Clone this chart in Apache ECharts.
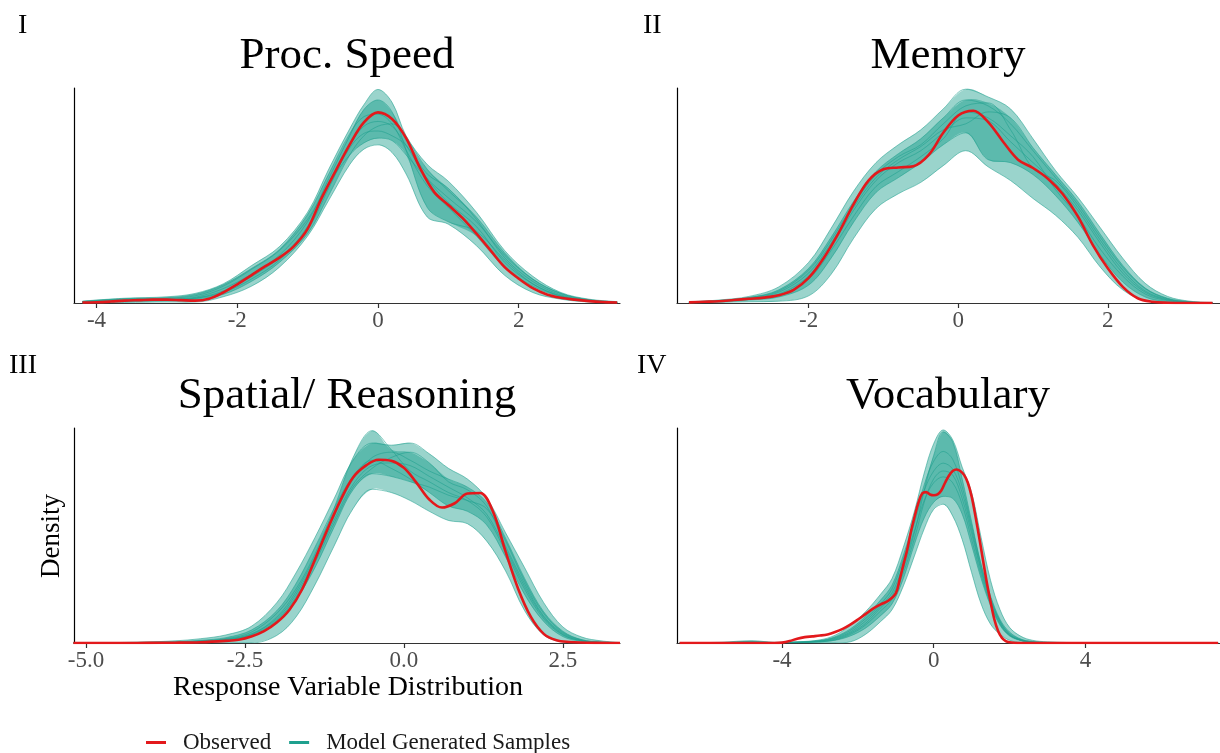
<!DOCTYPE html>
<html>
<head>
<meta charset="utf-8">
<script src="https://cdn.jsdelivr.net/npm/echarts@6/dist/echarts.min.js"></script>
<style>
html, body { margin: 0; padding: 0; background: #ffffff; }
#chart { width: 1220px; height: 753px; }
</style>
</head>
<body>
<div id="chart"></div>
<script>
// Panel labels and axis ticks
const panelTitles = ['Proc. Speed', 'Memory', 'Spatial/ Reasoning', 'Vocabulary'];
const panelNumerals = ['I', 'II', 'III', 'IV'];
const tickValues = [[-4, -2, 0, 2], [-2, 0, 2], [-5, -2.5, 0, 2.5], [-4, 0, 4]];
const tickDecimals = [0, 0, 1, 0];
const xLimits = [[-4.32, 3.44], [-3.76, 3.5], [-5.19, 3.40], [-6.77, 7.55]];
const yLimits = [0.45, 0.36, 0.40, 0.55];

// I. Processing speed
const procObsX = [-4.2,-4.0,-3.8,-3.6,-3.4,-3.2,-3.0,-2.8,-2.6,-2.4,-2.2,-2.0,-1.8,-1.6,-1.4,-1.2,-1.0,-0.8,-0.6,-0.4,-0.2,0.0,0.2,0.4,0.6,0.8,1.0,1.2,1.4,1.6,1.8,2.0,2.2,2.4,2.6,2.8,3.0,3.2,3.4];
const procObs = [0.001,0.0015,0.003,0.005,0.006,0.007,0.007,0.006,0.005,0.009,0.022,0.039,0.058,0.077,0.095,0.118,0.155,0.22,0.277,0.332,0.378,0.399,0.385,0.345,0.282,0.232,0.205,0.178,0.145,0.11,0.075,0.051,0.031,0.018,0.011,0.007,0.004,0.002,0.001];
const procSimX = [-4.2,-3.6,-3.0,-2.6,-2.2,-1.8,-1.4,-1.0,-0.7,-0.4,-0.2,0,0.2,0.4,0.7,1.0,1.4,1.8,2.2,2.6,3.0,3.4];
const procSimUpper = [0.004,0.010,0.013,0.02,0.04,0.078,0.118,0.19,0.28,0.365,0.415,0.447,0.42,0.35,0.29,0.255,0.19,0.11,0.056,0.022,0.008,0.003];
const procSimLower = [0,0.001,0.002,0.002,0.013,0.035,0.075,0.14,0.215,0.29,0.322,0.331,0.315,0.27,0.18,0.165,0.12,0.058,0.022,0.008,0.002,0];
const procSamples = [
  [0.002,0.006,0.008,0.012,0.03,0.06,0.1,0.17,0.26,0.35,0.405,0.425,0.40,0.32,0.2,0.17,0.15,0.09,0.04,0.015,0.005,0.001],
  [0.003,0.008,0.01,0.015,0.035,0.07,0.11,0.175,0.25,0.31,0.335,0.345,0.34,0.31,0.26,0.22,0.17,0.1,0.05,0.02,0.007,0.002],
  [0.001,0.004,0.006,0.01,0.025,0.055,0.095,0.155,0.24,0.33,0.37,0.38,0.37,0.33,0.26,0.21,0.16,0.085,0.04,0.014,0.004,0.001],
  [0.001,0.003,0.005,0.008,0.018,0.045,0.085,0.145,0.225,0.31,0.35,0.37,0.375,0.345,0.28,0.235,0.18,0.105,0.05,0.02,0.006,0.001],
  [0.003,0.009,0.011,0.018,0.038,0.072,0.112,0.185,0.27,0.355,0.39,0.395,0.375,0.32,0.245,0.2,0.14,0.075,0.035,0.013,0.004,0.001],
  [0.002,0.005,0.007,0.01,0.022,0.05,0.09,0.16,0.245,0.325,0.355,0.36,0.35,0.33,0.27,0.24,0.175,0.095,0.045,0.017,0.005,0.001]
];

// II. Memory
const memObsX = [-3.6,-3.4,-3.2,-3.0,-2.8,-2.6,-2.4,-2.2,-2.0,-1.8,-1.6,-1.4,-1.2,-1.0,-0.8,-0.6,-0.4,-0.2,0.0,0.2,0.4,0.6,0.8,1.0,1.2,1.4,1.6,1.8,2.0,2.2,2.4,2.6,2.8,3.0,3.2,3.4];
const memObs = [0.001,0.002,0.003,0.005,0.007,0.009,0.013,0.022,0.042,0.075,0.117,0.165,0.205,0.224,0.227,0.229,0.247,0.285,0.314,0.322,0.303,0.27,0.24,0.226,0.208,0.182,0.145,0.097,0.058,0.027,0.008,0.002,0.0005,0,0,0];
const memSimX = [-3.6,-3.2,-2.8,-2.4,-2.0,-1.7,-1.4,-1.1,-0.8,-0.5,-0.2,0.1,0.4,0.7,1.0,1.3,1.6,1.9,2.2,2.5,2.8,3.1,3.4];
const memSimUpper = [0.002,0.005,0.011,0.027,0.068,0.125,0.187,0.235,0.265,0.29,0.325,0.358,0.345,0.325,0.275,0.222,0.177,0.126,0.075,0.033,0.011,0.003,0.001];
const memSimLower = [0,0.001,0.002,0.003,0.012,0.048,0.108,0.158,0.183,0.202,0.23,0.255,0.228,0.205,0.175,0.147,0.11,0.06,0.022,0.004,0.001,0,0];
const memSamples = [
  [0.001,0.003,0.007,0.015,0.045,0.095,0.155,0.205,0.235,0.255,0.285,0.31,0.305,0.27,0.235,0.2,0.155,0.1,0.05,0.018,0.005,0.001,0],
  [0.001,0.004,0.009,0.022,0.058,0.11,0.17,0.22,0.25,0.275,0.31,0.34,0.33,0.3,0.255,0.21,0.165,0.11,0.06,0.024,0.007,0.002,0],
  [0,0.002,0.005,0.01,0.03,0.075,0.135,0.185,0.21,0.235,0.265,0.285,0.24,0.235,0.215,0.18,0.135,0.08,0.035,0.01,0.002,0,0],
  [0.001,0.003,0.008,0.018,0.05,0.1,0.16,0.21,0.24,0.262,0.29,0.3,0.32,0.31,0.26,0.215,0.17,0.115,0.063,0.025,0.008,0.002,0],
  [0.001,0.003,0.006,0.013,0.04,0.088,0.145,0.195,0.22,0.245,0.275,0.32,0.31,0.28,0.245,0.19,0.145,0.09,0.045,0.015,0.004,0.001,0],
  [0.001,0.004,0.009,0.02,0.055,0.105,0.165,0.215,0.245,0.265,0.3,0.33,0.335,0.29,0.225,0.205,0.16,0.105,0.055,0.02,0.006,0.001,0]
];

// III. Spatial / reasoning
const spaObsX = [-5.2,-4.8,-4.4,-4.0,-3.6,-3.2,-2.8,-2.6,-2.4,-2.2,-2.0,-1.8,-1.6,-1.4,-1.2,-1.0,-0.8,-0.6,-0.4,-0.2,0,0.2,0.4,0.6,0.8,1.0,1.2,1.4,1.6,1.8,2.0,2.2,2.4,2.6,3.0,3.4];
const spaObs = [0,0,0,0.0003,0.0006,0.0015,0.004,0.006,0.012,0.022,0.038,0.062,0.1,0.155,0.212,0.265,0.308,0.33,0.341,0.339,0.326,0.298,0.267,0.252,0.26,0.278,0.279,0.245,0.17,0.1,0.048,0.017,0.005,0.002,0.0003,0];
const spaSimX = [-5.2,-4.4,-3.6,-3.2,-2.8,-2.4,-2.0,-1.7,-1.4,-1.1,-0.8,-0.5,-0.2,0.1,0.4,0.7,1.0,1.3,1.6,1.9,2.2,2.5,2.8,3.1,3.4];
const spaSimUpper = [0.001,0.001,0.004,0.008,0.015,0.031,0.075,0.13,0.196,0.268,0.34,0.372,0.368,0.372,0.352,0.325,0.305,0.27,0.205,0.14,0.075,0.03,0.011,0.004,0.001];
const spaSimLower = [0,0,0,0,0,0,0.014,0.048,0.108,0.18,0.25,0.286,0.28,0.265,0.245,0.228,0.222,0.19,0.134,0.06,0.015,0.002,0,0,0];
const spaSamples = [
  [0,0.001,0.002,0.004,0.008,0.02,0.055,0.1,0.165,0.25,0.345,0.395,0.36,0.32,0.3,0.28,0.265,0.235,0.17,0.1,0.045,0.015,0.004,0.001,0],
  [0,0,0.001,0.003,0.007,0.017,0.045,0.09,0.155,0.228,0.295,0.33,0.335,0.33,0.31,0.29,0.27,0.24,0.175,0.105,0.048,0.016,0.004,0.001,0],
  [0,0,0.001,0.002,0.005,0.013,0.038,0.08,0.14,0.215,0.285,0.315,0.31,0.3,0.29,0.275,0.265,0.25,0.19,0.115,0.055,0.02,0.006,0.001,0],
  [0,0,0.001,0.002,0.006,0.015,0.042,0.085,0.15,0.222,0.29,0.325,0.345,0.355,0.335,0.3,0.285,0.255,0.18,0.11,0.05,0.018,0.005,0.001,0],
  [0,0.001,0.002,0.005,0.01,0.024,0.06,0.11,0.178,0.25,0.31,0.34,0.325,0.305,0.28,0.255,0.245,0.22,0.16,0.09,0.04,0.012,0.003,0.001,0],
  [0,0,0.001,0.003,0.006,0.016,0.048,0.095,0.16,0.235,0.305,0.345,0.355,0.34,0.32,0.305,0.29,0.262,0.195,0.12,0.058,0.022,0.006,0.002,0]
];

// IV. Vocabulary
const vocObsX = [-6.7,-5.0,-4.2,-4.0,-3.8,-3.6,-3.4,-3.2,-3.0,-2.8,-2.6,-2.4,-2.2,-2.0,-1.8,-1.6,-1.4,-1.2,-1.0,-0.9,-0.8,-0.7,-0.6,-0.5,-0.4,-0.3,-0.2,-0.1,0,0.1,0.2,0.3,0.4,0.5,0.6,0.7,0.8,0.9,1.0,1.1,1.2,1.3,1.4,1.5,1.6,1.7,1.8,1.9,2.0,2.2,3.0,5.0,7.5];
const vocObs = [0,0,0,0.001,0.005,0.011,0.015,0.017,0.019,0.022,0.028,0.036,0.047,0.06,0.074,0.088,0.099,0.108,0.127,0.161,0.2,0.238,0.285,0.325,0.36,0.383,0.386,0.38,0.378,0.38,0.39,0.41,0.428,0.44,0.444,0.44,0.43,0.41,0.375,0.325,0.27,0.212,0.155,0.105,0.06,0.03,0.013,0.005,0.002,0,0,0,0];
const vocSimX = [-6.7,-5.6,-4.8,-4.2,-3.6,-3.0,-2.6,-2.2,-1.8,-1.4,-1.1,-0.8,-0.5,-0.25,0,0.25,0.5,0.75,1.0,1.25,1.5,1.75,2.0,2.3,2.6,3.0,4.0,5.5,7.5];
const vocSimUpper = [0,0.002,0.006,0.002,0.003,0.008,0.02,0.045,0.08,0.125,0.165,0.245,0.34,0.435,0.51,0.545,0.52,0.45,0.385,0.27,0.16,0.085,0.04,0.017,0.007,0.003,0.001,0.001,0];
const vocSimLower = [0,0,0,0,0,0,0,0.003,0.022,0.055,0.085,0.146,0.225,0.292,0.342,0.355,0.325,0.265,0.18,0.1,0.048,0.022,0.007,0.001,0,0,0,0,0];
const vocSamples = [
  [0,0,0.002,0.001,0.002,0.004,0.01,0.025,0.05,0.09,0.12,0.19,0.285,0.39,0.48,0.54,0.515,0.42,0.31,0.2,0.115,0.055,0.022,0.007,0.002,0,0,0,0],
  [0,0.001,0.003,0.001,0.002,0.006,0.014,0.032,0.062,0.1,0.138,0.215,0.31,0.39,0.44,0.46,0.445,0.385,0.29,0.19,0.11,0.055,0.024,0.009,0.003,0.001,0,0,0],
  [0,0,0.001,0.001,0.001,0.003,0.008,0.022,0.046,0.082,0.112,0.18,0.27,0.36,0.42,0.44,0.43,0.37,0.28,0.185,0.105,0.05,0.02,0.007,0.002,0.001,0,0,0],
  [0,0.001,0.002,0.001,0.002,0.005,0.012,0.028,0.056,0.095,0.128,0.2,0.29,0.365,0.41,0.425,0.41,0.355,0.265,0.175,0.1,0.048,0.02,0.007,0.002,0.001,0,0,0],
  [0,0,0.001,0,0.001,0.003,0.007,0.018,0.038,0.07,0.1,0.165,0.255,0.32,0.36,0.375,0.37,0.33,0.25,0.165,0.095,0.045,0.018,0.006,0.002,0,0,0,0],
  [0,0.001,0.004,0.001,0.002,0.006,0.016,0.036,0.068,0.11,0.148,0.225,0.32,0.405,0.465,0.49,0.47,0.4,0.3,0.2,0.12,0.06,0.028,0.01,0.004,0.001,0,0,0]
];

const panels = [
  { obsX: procObsX, obs: procObs, simX: procSimX, upper: procSimUpper, lower: procSimLower, samples: procSamples },
  { obsX: memObsX, obs: memObs, simX: memSimX, upper: memSimUpper, lower: memSimLower, samples: memSamples },
  { obsX: spaObsX, obs: spaObs, simX: spaSimX, upper: spaSimUpper, lower: spaSimLower, samples: spaSamples },
  { obsX: vocObsX, obs: vocObs, simX: vocSimX, upper: vocSimUpper, lower: vocSimLower, samples: vocSamples }
];

const SERIF = "'Liberation Serif', 'DejaVu Serif', serif";
const RED = '#e3191c';
const TEAL = '#1ea08e';
const SMOOTH = 0.35;

const grids = [
  { left: 74, top: 88, width: 546, height: 215 },
  { left: 677, top: 88, width: 543, height: 215 },
  { left: 74, top: 428, width: 546, height: 215 },
  { left: 677, top: 428, width: 543, height: 215 }
];

const pairs = (xs, ys) => xs.map((x, i) => [x, ys[i]]);

const xAxes = grids.map((g, p) => ({
  type: 'value', gridIndex: p, min: xLimits[p][0], max: xLimits[p][1],
  splitLine: { show: false },
  axisLine: { show: true, onZero: false, lineStyle: { color: '#333333', width: 1.2 } },
  axisTick: { show: true, length: 5, customValues: tickValues[p], lineStyle: { color: '#333333', width: 1.2 } },
  axisLabel: {
    customValues: tickValues[p], margin: 6, color: '#4d4d4d', fontFamily: SERIF, fontSize: 23,
    formatter: v => Number(v).toFixed(tickDecimals[p])
  }
}));

const yAxes = grids.map((g, p) => ({
  type: 'value', gridIndex: p, min: 0, max: yLimits[p],
  splitLine: { show: false },
  axisLine: { show: true, onZero: false, lineStyle: { color: '#000000', width: 1.2 } },
  axisTick: { show: false }, axisLabel: { show: false }
}));

// polygon between two density curves sharing the same x grid
function spreadSeries(p, xs, hi, lo, opacity) {
  return {
    type: 'custom', xAxisIndex: p, yAxisIndex: p, silent: true, clip: true,
    data: [[xs[0], 0]],
    renderItem: (params, api) => {
      const top = xs.map((x, i) => api.coord([x, hi[i]]));
      const bottom = xs.map((x, i) => api.coord([x, lo[i]])).reverse();
      return {
        type: 'polygon',
        shape: { points: top.concat(bottom), smooth: SMOOTH },
        style: { fill: TEAL, opacity: opacity }
      };
    }
  };
}

const series = [];
panels.forEach((d, p) => {
  const common = { type: 'line', xAxisIndex: p, yAxisIndex: p, symbol: 'none', smooth: SMOOTH, silent: true };
  // full spread of the simulated densities, then the denser core
  series.push(spreadSeries(p, d.simX, d.upper, d.lower, 0.45));
  const coreHi = d.simX.map((x, i) => Math.max.apply(null, d.samples.map(s => s[i])));
  const coreLo = d.simX.map((x, i) => Math.min.apply(null, d.samples.map(s => s[i])));
  series.push(spreadSeries(p, d.simX, coreHi, coreLo, 0.5));
  // individual simulated densities
  [d.upper, d.lower].concat(d.samples).forEach(ys => {
    series.push(Object.assign({}, common, {
      name: 'Model Generated Samples', data: pairs(d.simX, ys),
      itemStyle: { color: TEAL },
      lineStyle: { color: TEAL, width: 0.7, opacity: 0.8 }
    }));
  });
  // observed density
  series.push(Object.assign({}, common, {
    name: 'Observed', data: pairs(d.obsX, d.obs), z: 5,
    itemStyle: { color: RED },
    lineStyle: { color: RED, width: 2.6 }
  }));
});

const titleCenters = [[347, 56], [948, 56], [347, 396], [948, 396]];
const numeralPos = [[18, 26], [643, 26], [9, 366], [637, 366]];

const graphic = [];
panelTitles.forEach((t, p) => {
  graphic.push({ type: 'text', x: titleCenters[p][0], y: titleCenters[p][1], silent: true,
    style: { text: t, fill: '#000000', font: '45px ' + SERIF, textAlign: 'center', textVerticalAlign: 'middle' } });
  graphic.push({ type: 'text', x: numeralPos[p][0], y: numeralPos[p][1], silent: true,
    style: { text: panelNumerals[p], fill: '#000000', font: '28px ' + SERIF, textAlign: 'left', textVerticalAlign: 'middle' } });
});
graphic.push({ type: 'text', x: 52, y: 536, rotation: Math.PI / 2, silent: true,
  style: { text: 'Density', fill: '#000000', font: '27px ' + SERIF, textAlign: 'center', textVerticalAlign: 'middle' } });
graphic.push({ type: 'text', x: 348, y: 688, silent: true,
  style: { text: 'Response Variable Distribution', fill: '#000000', font: '28px ' + SERIF, textAlign: 'center', textVerticalAlign: 'middle' } });

const chart = echarts.init(document.getElementById('chart'), null, { renderer: 'canvas' });
chart.setOption({
  backgroundColor: '#ffffff',
  animation: false,
  grid: grids,
  xAxis: xAxes,
  yAxis: yAxes,
  legend: {
    data: ['Observed', 'Model Generated Samples'],
    left: 141, top: 726, icon: 'rect', itemWidth: 20, itemHeight: 3, itemGap: 18,
    selectedMode: false,
    textStyle: { fontFamily: SERIF, fontSize: 23, color: '#1a1a1a', padding: [0, 0, 0, 12] }
  },
  graphic: graphic,
  series: series
});
</script>
</body>
</html>
